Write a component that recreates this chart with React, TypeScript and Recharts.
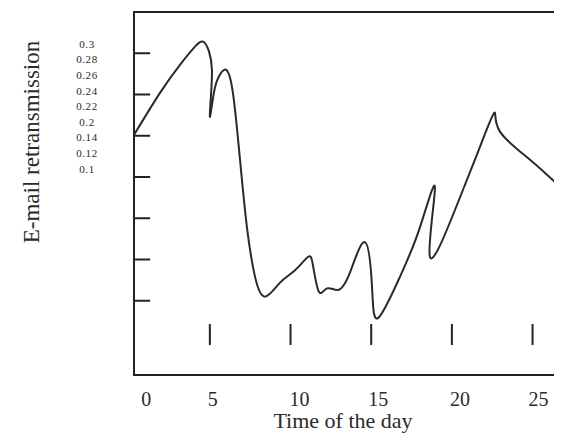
import React from "react";
import { LineChart, Line, XAxis, YAxis, ReferenceLine, ReferenceArea } from "recharts";

// Time of the day (hours) and e-mail retransmission values
const timeOfDay = [
  0.3, 1.91, 3.15, 4.08, 4.58, 4.95, 5.13, 5.07, 5.01, 5.26, 5.57, 6.0, 6.43, 6.87, 7.3, 7.8, 8.42,
  9.35, 10.28, 11.08, 11.39, 11.76, 12.26, 12.94, 13.68, 14.61, 15.05, 15.42, 16.78, 18.02, 18.95,
  18.64, 20.19, 21.43, 22.23, 22.67, 22.98, 24.84, 26.7,
];
const retransmission = [
  0.251, 0.302, 0.336, 0.358, 0.364, 0.352, 0.33, 0.299, 0.273, 0.303, 0.322, 0.33, 0.302, 0.221,
  0.139, 0.079, 0.055, 0.072, 0.087, 0.103, 0.093, 0.061, 0.065, 0.063, 0.084, 0.121, 0.067, 0.029,
  0.079, 0.139, 0.187, 0.103, 0.16, 0.221, 0.261, 0.278, 0.255, 0.221, 0.188,
];

const xTickValues = [0, 5, 10, 15, 20, 25];
const xTickLabels = ["0", "5", "10", "15", "20", "25"];
const innerXTicks = [5, 10, 15, 20, 25];
const yTickValues = [0.05, 0.1, 0.15, 0.2, 0.25, 0.3, 0.35];
const yTickLabels = ["0.3", "0.28", "0.26", "0.24", "0.22", "0.2", "0.14", "0.12", "0.1"];
const yLabelSlots = yTickLabels.map((_, i) => i);

const X_DOMAIN: [number, number] = [0.3, 26.7];
const Y_DOMAIN: [number, number] = [-0.04, 0.4];

const data = timeOfDay.map((t, i) => ({ t, v: retransmission[i] }));

const FONT = '"Liberation Serif", "DejaVu Serif", serif';
const TEXT = "#2a2a2a";
const INK = "#222";
const NUDGES = [17, 3, 9, 7, 8, 6];

const renderYLabelTick = (props: any) => {
  const { x, y, payload } = props;
  const idx = Math.round(Number(payload.value));
  return (
    <g key={"yl-" + idx}>
      <text x={x - 47} y={y} dy="0.35em" textAnchor="middle" fontFamily={FONT} fontSize={11} letterSpacing={0.6} fill={TEXT}>
        {yTickLabels[idx]}
      </text>
    </g>
  );
};

const renderXTick = (props: any) => {
  const { x, y, payload, index } = props;
  const i = typeof index === "number" ? index : xTickValues.indexOf(Number(payload.value));
  return (
    <g key={"xt-" + i}>
      <text x={x + (NUDGES[i] ?? 0)} y={y + 24} textAnchor="middle" fontFamily={FONT} fontSize={20} fill={TEXT}>
        {xTickLabels[i] ?? String(payload.value)}
      </text>
    </g>
  );
};

export default function App() {
  return (
    <div style={{ width: 554, height: 430, background: "#fff" }}>
      <LineChart width={554} height={430} data={data} margin={{ top: 4, right: 2, bottom: 0, left: 0 }}>
        <XAxis
          dataKey="t"
          type="number"
          domain={X_DOMAIN}
          allowDataOverflow
          ticks={xTickValues}
          interval={0}
          axisLine={false}
          tickLine={false}
          tickSize={4}
          tickMargin={3}
          height={63}
          tick={renderXTick}
        />
        <YAxis yAxisId="main" type="number" domain={Y_DOMAIN} allowDataOverflow hide />
        <YAxis
          yAxisId="lab"
          type="number"
          domain={[-2.05, 21.22]}
          reversed
          allowDataOverflow
          ticks={yLabelSlots}
          interval={0}
          axisLine={false}
          tickLine={false}
          tickSize={0}
          tickMargin={0}
          width={126}
          tick={renderYLabelTick}
        />
        <ReferenceArea
          yAxisId="main"
          x1={X_DOMAIN[0]}
          x2={X_DOMAIN[1]}
          y1={Y_DOMAIN[0]}
          y2={Y_DOMAIN[1]}
          fill="none"
          fillOpacity={0}
          stroke={INK}
          strokeWidth={2}
        />
        {yTickValues.map((v) => (
          <ReferenceLine
            key={"y" + v}
            yAxisId="main"
            segment={[
              { x: X_DOMAIN[0], y: v },
              { x: X_DOMAIN[0] + 1, y: v },
            ]}
            stroke={INK}
            strokeWidth={2}
          />
        ))}
        {innerXTicks.map((t) => (
          <ReferenceLine
            key={"x" + t}
            yAxisId="main"
            segment={[
              { x: t, y: -0.0036 },
              { x: t, y: 0.0218 },
            ]}
            stroke={INK}
            strokeWidth={2}
          />
        ))}
        <Line
          yAxisId="main"
          type="natural"
          dataKey="v"
          stroke="#2a2a2a"
          strokeWidth={2}
          dot={false}
          isAnimationActive={false}
        />
        <text x={335} y={420} textAnchor="middle" fontFamily={FONT} fontSize={22} fill={TEXT}>
          Time of the day
        </text>
        <text
          x={23}
          y={134}
          transform="rotate(-90, 23, 134)"
          textAnchor="middle"
          dominantBaseline="central"
          fontFamily={FONT}
          fontSize={23}
          fill={TEXT}
        >
          E-mail retransmission
        </text>
      </LineChart>
    </div>
  );
}
